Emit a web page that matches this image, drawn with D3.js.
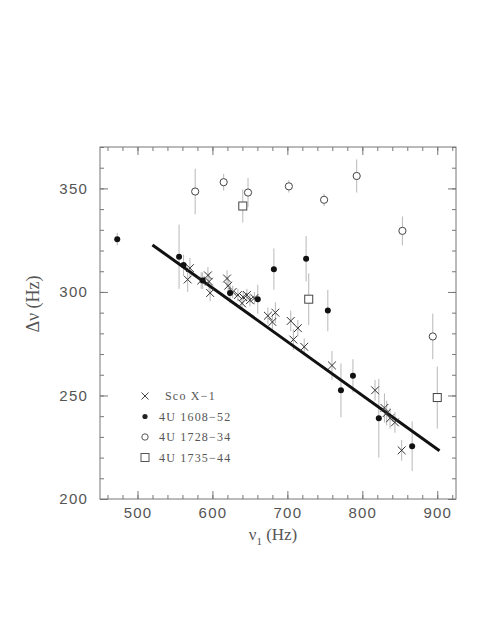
<!DOCTYPE html>
<html><head><meta charset="utf-8">
<script src="https://cdn.jsdelivr.net/npm/d3@7"></script>
<style>body{margin:0;background:#fff;} svg{display:block;}</style>
</head><body>
<svg id="c" width="480" height="621"></svg>
<script>
// Sco X-1: [nu1, dnu, err]
const scoX1 = [
  [570, 311.5, 5],[567, 306, 6],[585, 305.5, 4],[594, 308, 4],[595.5, 305, 4],[597, 299.5, 4],
  [619.5, 306.5, 4],[621, 303, 4],[627, 300, 3],[634, 298.5, 3],[641, 297.5, 3],[646, 298.5, 3],
  [650, 296, 3],[639.5, 294.5, 3],[656, 297, 3],[674, 288.5, 4],[684, 290, 5],[680, 285.5, 4],
  [704.5, 286, 5],[714, 282.5, 4],[708, 277, 5],[722.5, 273.5, 4],[759.5, 264.5, 7],[817, 252.5, 5],
  [829.5, 244, 7],[832.5, 241.5, 6],[837, 239, 5],[843.5, 237, 5],[852.5, 223.5, 5]
];
// 4U 1608-52
const u1608 = [
  [473, 325.5, 3],[555.5, 317, 15.5],[561.5, 313, 5],[587, 305.5, 4],[623.5, 299.5, 5],
  [660.5, 296.5, 7],[682, 311, 10],[725, 316, 11],[754, 291, 10],[771.5, 252.5, 13],
  [787.5, 259.5, 8],[822, 239, 19],[866.5, 225.5, 12]
];
// 4U 1728-34
const u1728 = [
  [577, 348.5, 11],[615, 353, 4],[647.5, 348, 7],[702, 351, 3],[749, 344.5, 3],
  [792.5, 356, 8],[853.5, 329.5, 7],[894, 278.5, 11]
];
// 4U 1735-44
const u1735 = [
  [640.5, 341.5, 8],[728.5, 296.5, 12.5],[900, 249, 15]
];
// linear fit
const fitLine = [[520, 322.7],[903, 223.3]];

const xMajor = [500, 600, 700, 800, 900];
const xMinor = d3.range(460, 925, 20);
const yMajor = [200, 250, 300, 350];
const yMinor = d3.range(200, 371, 10);
const legendLabels = ["Sco X\u22121", "4U 1608\u221252", "4U 1728\u221234", "4U 1735\u221244"];

const L = 100, R = 456, T = 147, B = 499;
const x = d3.scaleLinear().domain([450, 925]).range([L, R]);
const y = d3.scaleLinear().domain([200, 370]).range([B, T]);

const svg = d3.select("#c");
const axisColor = "#777";
const textColor = "#555";

function styleAxis(g){
  g.select(".domain").remove();
  g.selectAll("line").attr("stroke", axisColor).attr("stroke-width", 1);
  g.selectAll("text").attr("fill", textColor).attr("font-family", "Liberation Sans, Arial, sans-serif")
    .attr("font-size", 15).attr("letter-spacing", "1.2px");
}
// minor ticks
svg.append("g").attr("transform", `translate(0,${B})`)
  .call(d3.axisBottom(x).tickValues(xMinor).tickSizeInner(-4).tickSizeOuter(0).tickFormat(""))
  .call(styleAxis);
svg.append("g").attr("transform", `translate(0,${T})`)
  .call(d3.axisTop(x).tickValues(xMinor).tickSizeInner(-4).tickSizeOuter(0).tickFormat(""))
  .call(styleAxis);
svg.append("g").attr("transform", `translate(${L},0)`)
  .call(d3.axisLeft(y).tickValues(yMinor).tickSizeInner(-4).tickSizeOuter(0).tickFormat(""))
  .call(styleAxis);
svg.append("g").attr("transform", `translate(${R},0)`)
  .call(d3.axisRight(y).tickValues(yMinor).tickSizeInner(-4).tickSizeOuter(0).tickFormat(""))
  .call(styleAxis);
// major ticks with labels
svg.append("g").attr("transform", `translate(0,${B})`)
  .call(d3.axisBottom(x).tickValues(xMajor).tickSizeInner(-8).tickSizeOuter(0).tickPadding(8).tickFormat(d3.format("d")))
  .call(styleAxis);
svg.append("g").attr("transform", `translate(0,${T})`)
  .call(d3.axisTop(x).tickValues(xMajor).tickSizeInner(-8).tickSizeOuter(0).tickFormat(""))
  .call(styleAxis);
svg.append("g").attr("transform", `translate(${L},0)`)
  .call(d3.axisLeft(y).tickValues(yMajor).tickSizeInner(-8).tickSizeOuter(0).tickPadding(12).tickFormat(d3.format("d")))
  .call(styleAxis);
svg.append("g").attr("transform", `translate(${R},0)`)
  .call(d3.axisRight(y).tickValues(yMajor).tickSizeInner(-8).tickSizeOuter(0).tickFormat(""))
  .call(styleAxis);
// frame
svg.append("rect").attr("x", L).attr("y", T).attr("width", R - L).attr("height", B - T)
  .attr("fill", "none").attr("stroke", axisColor).attr("stroke-width", 1);

// axis titles
svg.append("text").attr("x", 273).attr("y", 540).attr("text-anchor", "middle")
  .attr("font-family", "Liberation Serif, serif").attr("font-size", 17).attr("fill", textColor)
  .call(t => { t.append("tspan").text("\u03BD");
               t.append("tspan").attr("font-size", 11).attr("dy", 5).text("1");
               t.append("tspan").attr("dy", -5).text(" (Hz)"); });
svg.append("text").attr("transform", "translate(39,304) rotate(-90)").attr("text-anchor", "middle")
  .attr("font-family", "Liberation Serif, serif").attr("font-size", 18).attr("fill", textColor)
  .text("\u0394\u03BD (Hz)");

// error bars
const all = [...scoX1, ...u1608, ...u1728, ...u1735];
svg.append("g").selectAll("line").data(all).join("line")
  .attr("x1", d => x(d[0])).attr("x2", d => x(d[0]))
  .attr("y1", d => y(d[1] - d[2])).attr("y2", d => y(d[1] + d[2]))
  .attr("stroke", "#b8b8b8").attr("stroke-width", 1);

// fit line
svg.append("path").datum(fitLine)
  .attr("d", d3.line().x(d => x(d[0])).y(d => y(d[1])))
  .attr("stroke", "#111").attr("stroke-width", 3).attr("fill", "none");

// markers
const cross = 3.9;
svg.append("g").selectAll("path").data(scoX1).join("path")
  .attr("d", d => { const cx = x(d[0]), cy = y(d[1]);
    return `M${cx-cross},${cy-cross}L${cx+cross},${cy+cross}M${cx-cross},${cy+cross}L${cx+cross},${cy-cross}`; })
  .attr("stroke", "#333").attr("stroke-width", 1).attr("fill", "none");
svg.append("g").selectAll("circle").data(u1608).join("circle")
  .attr("cx", d => x(d[0])).attr("cy", d => y(d[1])).attr("r", 3)
  .attr("fill", "#111");
svg.append("g").selectAll("circle").data(u1728).join("circle")
  .attr("cx", d => x(d[0])).attr("cy", d => y(d[1])).attr("r", 3.6)
  .attr("fill", "#fff").attr("stroke", "#444").attr("stroke-width", 1);
svg.append("g").selectAll("rect").data(u1735).join("rect")
  .attr("x", d => x(d[0]) - 4).attr("y", d => y(d[1]) - 4).attr("width", 8).attr("height", 8)
  .attr("fill", "#fff").attr("stroke", "#444").attr("stroke-width", 1);

// legend
const lg = svg.append("g");
const ly = [396, 416.5, 437, 457.5];
const lx = 145;
lg.append("path").attr("d", `M${lx-3.5},${ly[0]-3.5}L${lx+3.5},${ly[0]+3.5}M${lx-3.5},${ly[0]+3.5}L${lx+3.5},${ly[0]-3.5}`)
  .attr("stroke", "#444").attr("stroke-width", 1);
lg.append("circle").attr("cx", lx).attr("cy", ly[1]).attr("r", 2.6).attr("fill", "#222");
lg.append("circle").attr("cx", lx).attr("cy", ly[2]).attr("r", 3.2).attr("fill", "#fff").attr("stroke", "#555");
lg.append("rect").attr("x", lx - 4).attr("y", ly[3] - 4).attr("width", 8).attr("height", 8).attr("fill", "#fff").attr("stroke", "#555");
lg.selectAll("text").data(legendLabels).join("text")
  .attr("x", (d, i) => i === 0 ? 165 : 159).attr("y", (d, i) => ly[i]).attr("dy", "0.35em")
  .attr("font-family", "Liberation Serif, serif").attr("font-size", 12).attr("letter-spacing", "1.2px")
  .attr("fill", textColor).text(d => d);
</script>
</body></html>
